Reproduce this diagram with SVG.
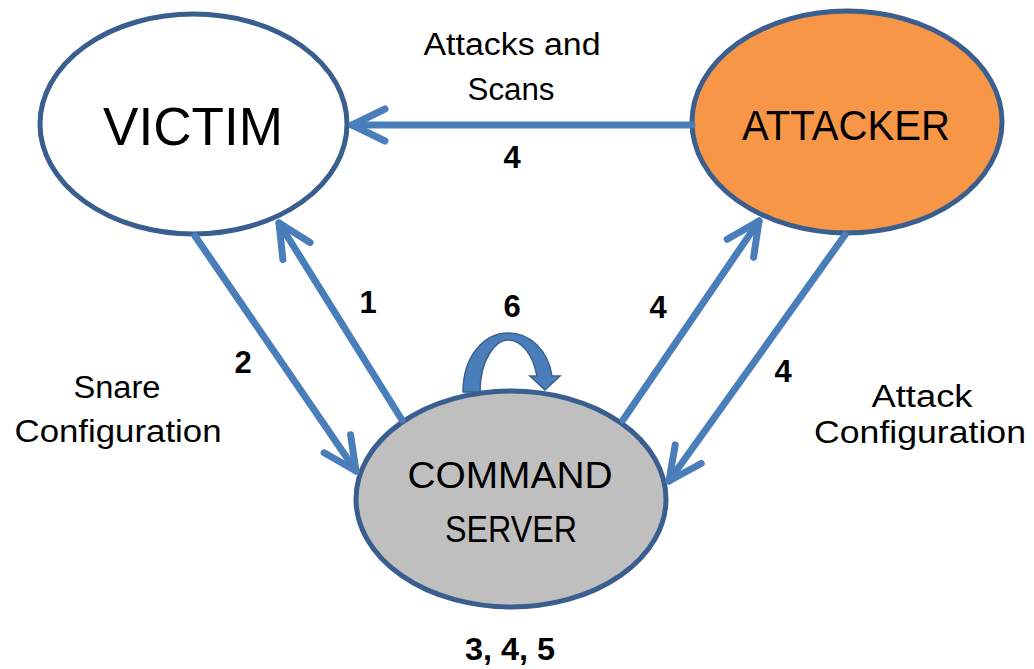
<svg xmlns="http://www.w3.org/2000/svg" width="1034" height="669" viewBox="0 0 1034 669">
<style>
.node{stroke:#3A5F8F;stroke-width:5}
.big{font-family:"Liberation Sans",Arial,sans-serif;fill:#000;text-anchor:middle}
.num{font-family:"Liberation Sans",Arial,sans-serif;font-weight:bold;font-size:31px;fill:#000;text-anchor:middle}
.txt{font-family:"Liberation Sans",Arial,sans-serif;font-size:31px;fill:#000;text-anchor:middle}
.conn{stroke:#4A7EBB;stroke-width:7;fill:none;stroke-linecap:round;marker-end:url(#ah)}
</style>
<defs>
<marker id="ah" markerUnits="userSpaceOnUse" viewBox="-40 -22 50 44" markerWidth="50" markerHeight="44" refX="0" refY="0" orient="auto">
<path d="M-33,-16 L0,0 L-33,16" fill="none" stroke="#4A7EBB" stroke-width="7" stroke-linecap="round" stroke-linejoin="round"/>
</marker>
</defs>
<rect width="1034" height="669" fill="#fff"/>
<g id="victim">
<ellipse class="node" cx="193.5" cy="124" rx="153.5" ry="110" fill="#fff"/>
<text class="big" x="193" y="145" font-size="54" textLength="180" lengthAdjust="spacingAndGlyphs">VICTIM</text>
</g>
<g id="attacker">
<ellipse class="node" cx="847" cy="122" rx="155" ry="111" fill="#F79646"/>
<text class="big" x="846" y="140" font-size="42" textLength="208" lengthAdjust="spacingAndGlyphs">ATTACKER</text>
</g>
<g id="command-server">
<ellipse class="node" cx="511" cy="499" rx="155" ry="108" fill="#BFBFBF"/>
<text class="big" x="510" y="488" font-size="37" textLength="205" lengthAdjust="spacingAndGlyphs">COMMAND</text>
<text class="big" x="511" y="542" font-size="37" textLength="132" lengthAdjust="spacingAndGlyphs">SERVER</text>
</g>
<g id="connectors">
<line class="conn" x1="692" y1="125" x2="352" y2="125"/>
<line class="conn" x1="195" y1="236" x2="356" y2="471"/>
<line class="conn" x1="402" y1="420" x2="279" y2="223"/>
<line class="conn" x1="623" y1="420" x2="759" y2="221"/>
<line class="conn" x1="845" y1="235" x2="669" y2="481"/>
<path id="loop6" d="M463,392 C463,355 485,333 508,333 C530,333 548,350 552,376 L560,376 L545,390 L530,376 L537,376 C533,355 522,340 508,340 C495,340 480,360 480,392 Z" fill="#4A7EBB" stroke="#3A5F8F" stroke-width="1.5"/>
</g>
<g id="labels">
<text class="txt" x="512" y="55" textLength="177" lengthAdjust="spacingAndGlyphs">Attacks and</text>
<text class="txt" x="511" y="100" textLength="87" lengthAdjust="spacingAndGlyphs">Scans</text>
<text class="num" x="512" y="168">4</text>
<text class="num" x="368" y="313">1</text>
<text class="num" x="243" y="373">2</text>
<text class="num" x="512" y="317">6</text>
<text class="num" x="658" y="318">4</text>
<text class="num" x="783" y="382">4</text>
<text class="txt" x="117" y="398" textLength="87" lengthAdjust="spacingAndGlyphs">Snare</text>
<text class="txt" x="118" y="442" textLength="207" lengthAdjust="spacingAndGlyphs">Configuration</text>
<text class="txt" x="922" y="407" textLength="101" lengthAdjust="spacingAndGlyphs">Attack</text>
<text class="txt" x="920" y="443" textLength="212" lengthAdjust="spacingAndGlyphs">Configuration</text>
<text class="num" x="510" y="660" textLength="90" lengthAdjust="spacingAndGlyphs">3, 4, 5</text>
</g>
</svg>
